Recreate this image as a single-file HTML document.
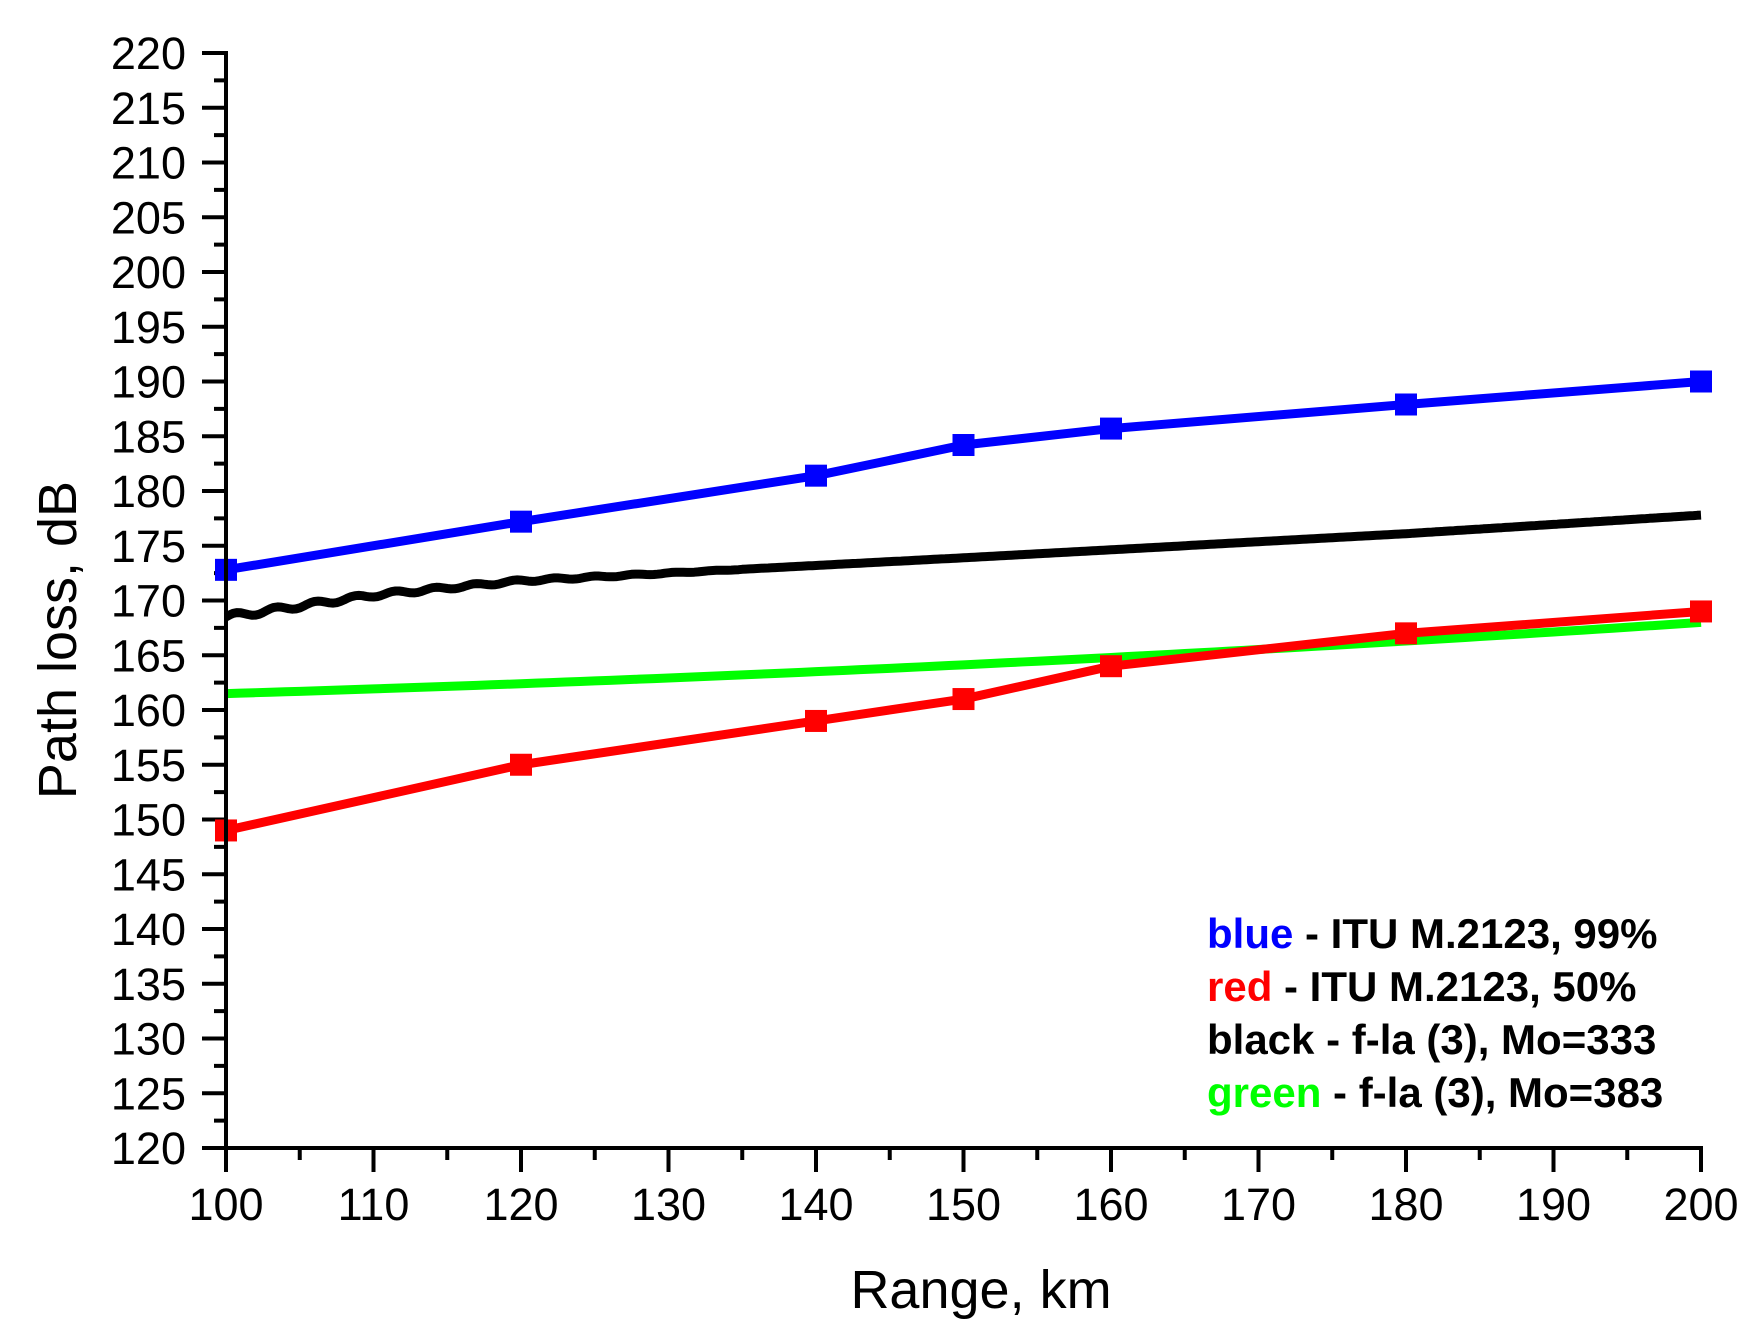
<!DOCTYPE html>
<html><head><meta charset="utf-8"><style>
html,body{margin:0;padding:0;background:#fff;}
svg{display:block;font-family:"Liberation Sans",Arial,sans-serif;}
</style></head><body>
<svg id="s" width="1764" height="1339" viewBox="0 0 1764 1339" xmlns="http://www.w3.org/2000/svg">
<rect width="1764" height="1339" fill="#fff"/>
<g id="ax" stroke="#000" stroke-width="4" fill="none"></g>
<g id="lbl" font-size="45" fill="#000"></g>
<g id="data"></g>
<text x="76" y="640" font-size="54" text-anchor="middle" transform="rotate(-90 76 640)">Path loss, dB</text>
<text x="981" y="1308" font-size="54" text-anchor="middle">Range, km</text>
<g font-size="42" font-weight="bold">
<text x="1207" y="948"><tspan fill="#0000ff">blue</tspan> - ITU M.2123, 99%</text>
<text x="1207" y="1001"><tspan fill="#ff0000">red</tspan> -  ITU M.2123, 50%</text>
<text x="1207" y="1054">black - f-la (3), Mo=333</text>
<text x="1207" y="1107"><tspan fill="#00ff00">green</tspan> - f-la (3), Mo=383</text>
</g>
</svg>
<script>
const X=v=>226+(v-100)*14.75, Y=v=>53+(220-v)*10.95;
const NS="http://www.w3.org/2000/svg";
function el(p,t,a,txt){const e=document.createElementNS(NS,t);for(const k in a)e.setAttribute(k,a[k]);if(txt!==undefined)e.textContent=txt;document.getElementById(p).appendChild(e);return e;}
let d=`M202 ${Y(220)}H226V${Y(120)}H${X(200)}V1172`;
for(let v=120;v<=220;v+=2.5){const y=Y(v);const maj=(v%5===0);d+=`M${maj?202:214} ${y}H226`;if(maj)el("lbl","text",{x:186,y:y+16,"text-anchor":"end"},String(v));}
for(let v=100;v<=200;v+=5){const x=X(v);const maj=(v%10===0);d+=`M${x} 1148V${maj?1172:1160}`;if(maj)el("lbl","text",{x:x,y:1220,"text-anchor":"middle"},String(v));}
el("ax","path",{d:d});
const xs=[100,120,140,150,160,180,200];
const blue=[172.8,177.2,181.4,184.2,185.7,187.9,190.0];
const red=[149,155,159,161,164,167,169];
let g="";for(let v=100;v<=200;v+=1){const val=161.5+(v-100)*0.04+(v-100)*(v-100)*0.00025;g+=(v===100?"M":"L")+X(v)+" "+Y(val);}
el("data","path",{d:g,stroke:"#00ff00","stroke-width":9,fill:"none"});
const kx=[100,110,120,130,150,180,200],ky=[168.5,170.5,171.8,172.5,173.9,176.1,177.8];
function interp(v){for(let i=0;i<kx.length-1;i++){if(v<=kx[i+1]){const t=(v-kx[i])/(kx[i+1]-kx[i]);return ky[i]+t*(ky[i+1]-ky[i]);}}return ky[ky.length-1];}
let b="";for(let v=100;v<=200;v+=0.25){const amp=v<135?0.25*(1-(v-100)/38):0;const w=amp*Math.sin((v-100)/2.7*2*Math.PI);
 b+=(v===100?"M":"L")+X(v).toFixed(1)+" "+Y(interp(v)+w).toFixed(1);}
el("data","path",{d:b,stroke:"#000","stroke-width":9,fill:"none","stroke-linejoin":"round"});
function series(vals,col){let p="";xs.forEach((x,i)=>{p+=(i?"L":"M")+X(x)+" "+Y(vals[i]);});
el("data","path",{d:p,stroke:col,"stroke-width":9,fill:"none","stroke-linejoin":"round"});
xs.forEach((x,i)=>el("data","rect",{x:X(x)-11,y:Y(vals[i])-11,width:22,height:22,fill:col}));}
series(red,"#ff0000");series(blue,"#0000ff");
el("data","path",{d:`M226 ${Y(220)}V1148`,stroke:"#000","stroke-width":4});
</script>
</body></html>
